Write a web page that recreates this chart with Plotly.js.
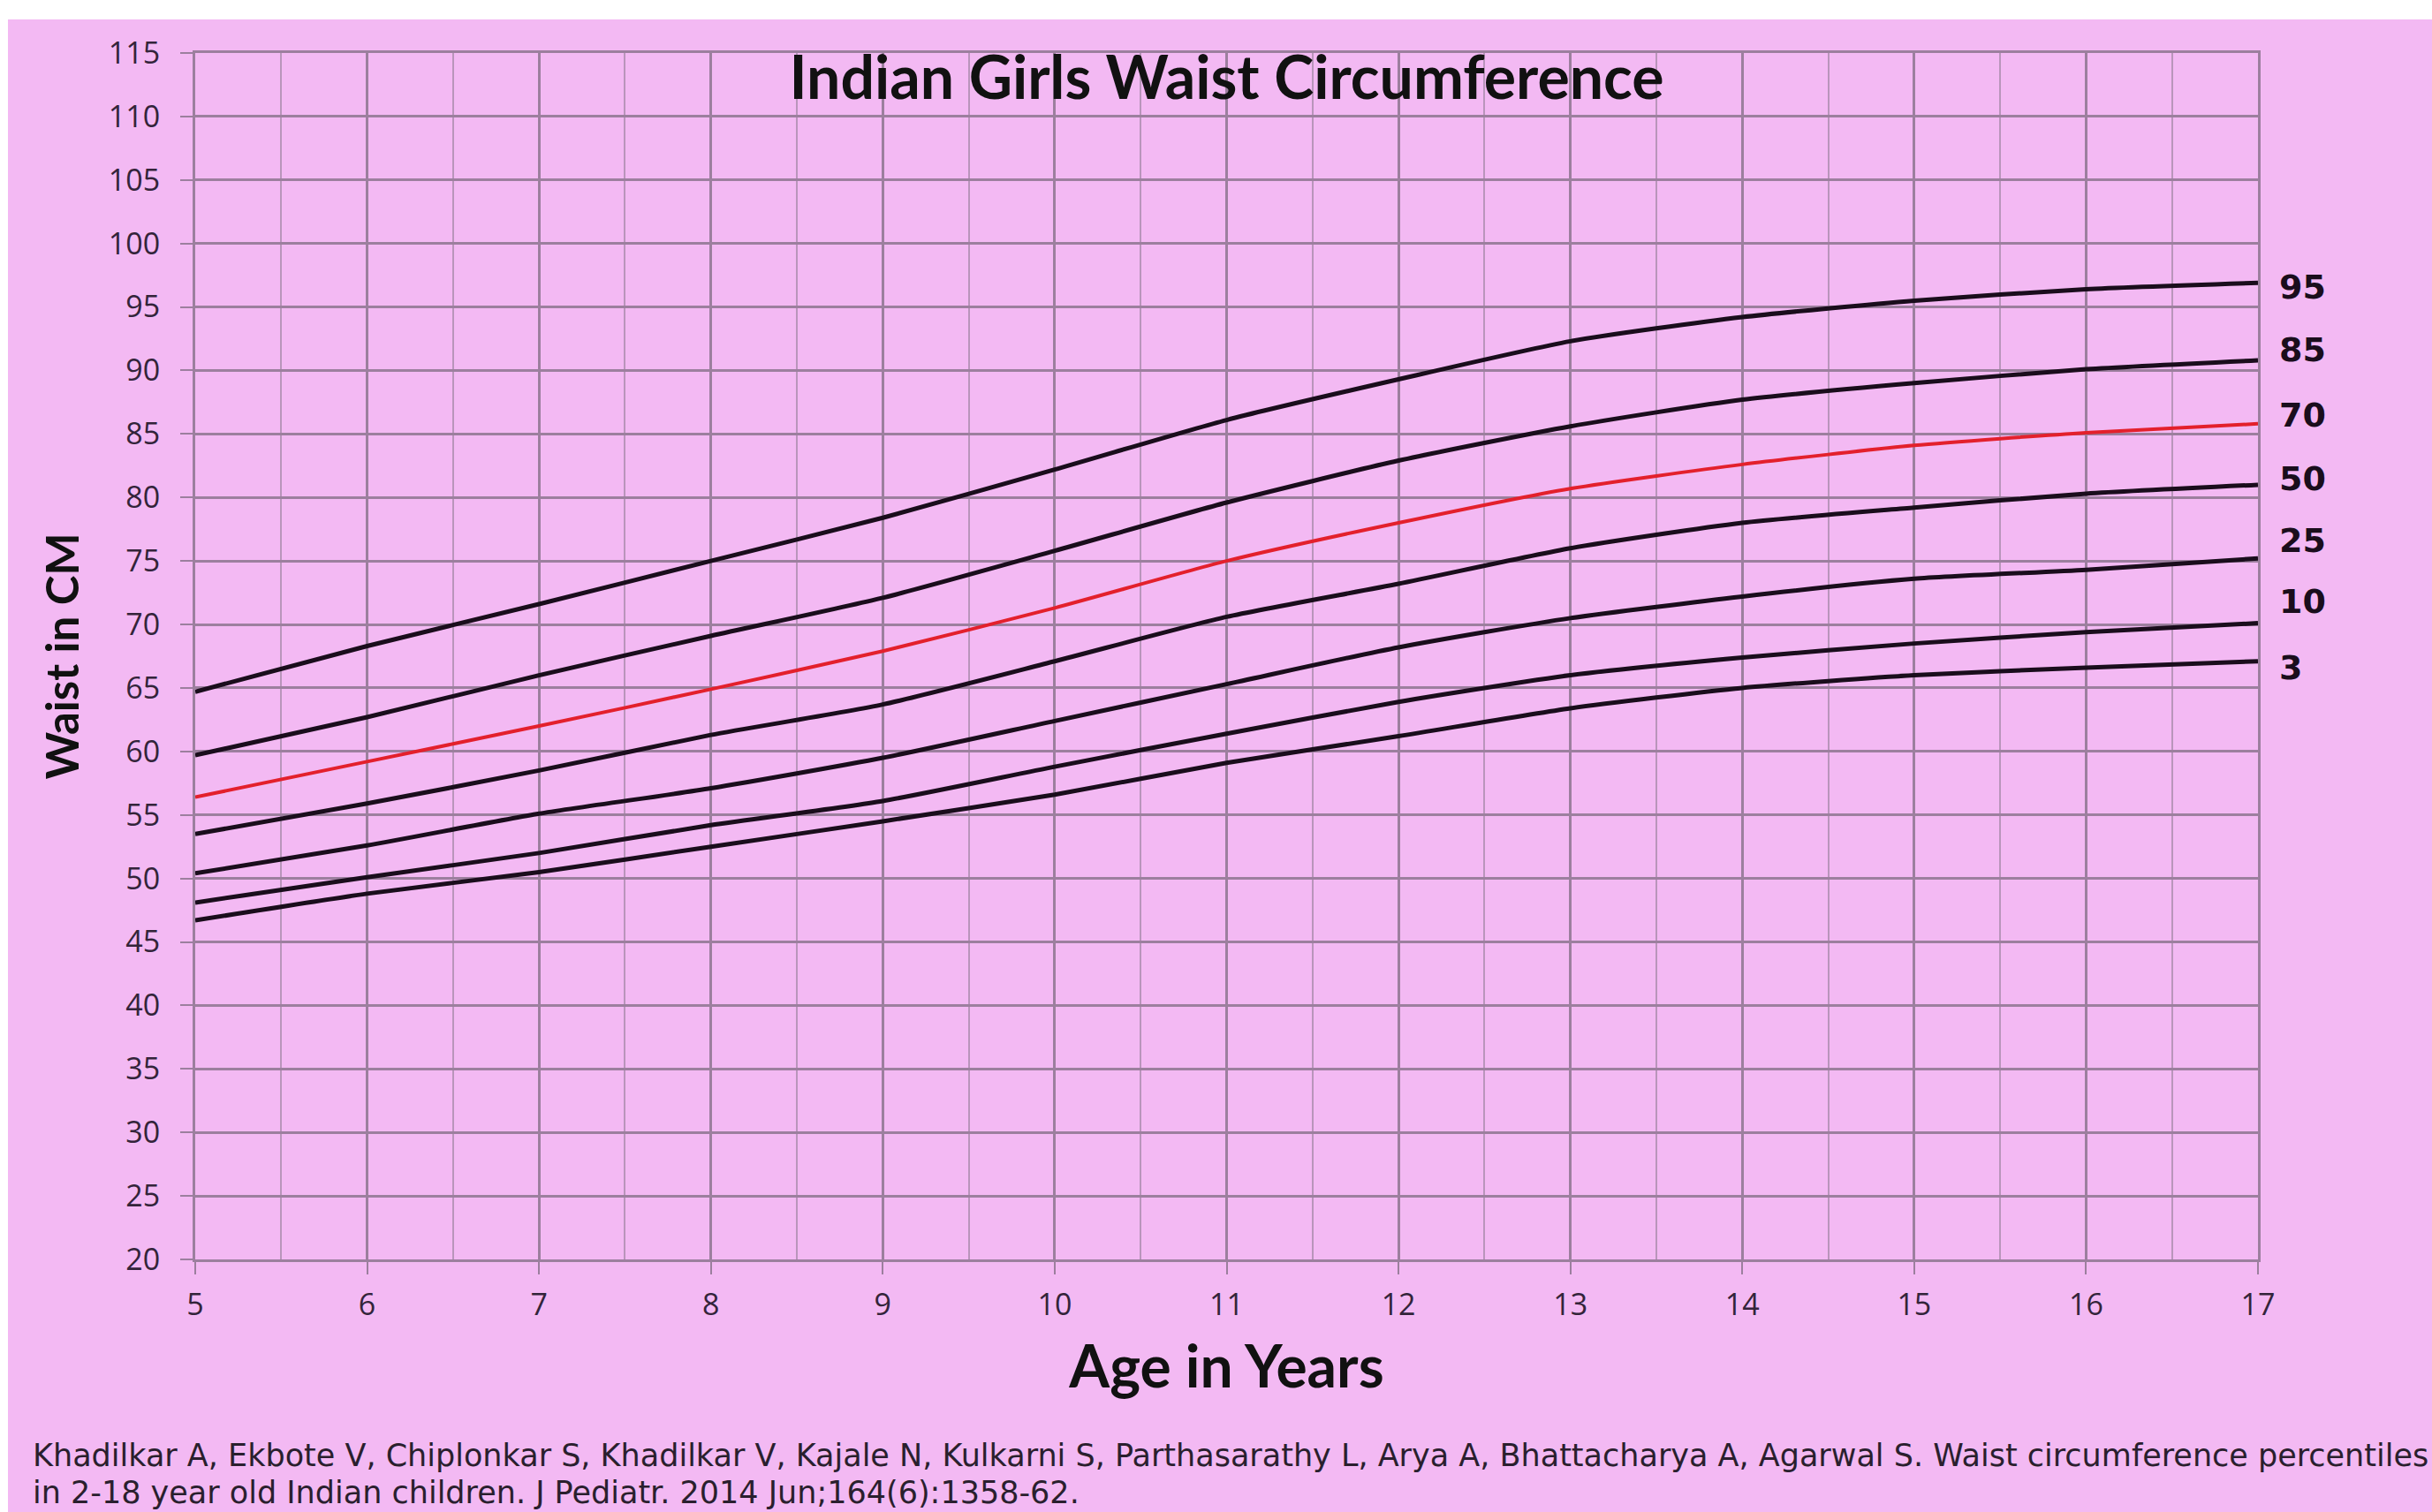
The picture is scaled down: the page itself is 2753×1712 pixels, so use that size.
<!DOCTYPE html>
<html>
<head>
<meta charset="utf-8">
<script src="https://cdn.plot.ly/plotly-3.0.1.min.js"></script>
<style>
  body { margin: 0; background: #ffffff; overflow: hidden; }
  #chart { position: absolute; left: 9px; top: 22px; width: 2744px; height: 1690px; }
</style>
</head>
<body>
<div id="chart"></div>
<script>
// ages in years
let ages = [5, 6, 7, 8, 9, 10, 11, 12, 13, 14, 15, 16, 17];

// waist circumference (cm), one list per percentile
let p95 = [64.7, 68.3, 71.6, 75.0, 78.4, 82.2, 86.1, 89.3, 92.3, 94.2, 95.5, 96.4, 96.9];
let p85 = [59.7, 62.7, 66.0, 69.1, 72.1, 75.8, 79.6, 82.9, 85.6, 87.7, 89.0, 90.1, 90.8];
let p70 = [56.4, 59.2, 62.0, 64.9, 67.9, 71.3, 75.0, 78.0, 80.7, 82.6, 84.1, 85.1, 85.8];
let p50 = [53.5, 55.9, 58.5, 61.3, 63.7, 67.1, 70.6, 73.2, 76.0, 78.0, 79.2, 80.3, 81.0];
let p25 = [50.4, 52.6, 55.1, 57.1, 59.5, 62.4, 65.3, 68.2, 70.5, 72.2, 73.6, 74.3, 75.2];
let p10 = [48.1, 50.1, 52.0, 54.2, 56.1, 58.8, 61.4, 63.9, 66.0, 67.4, 68.5, 69.4, 70.1];
let p3  = [46.7, 48.8, 50.5, 52.5, 54.5, 56.6, 59.1, 61.2, 63.4, 65.0, 66.0, 66.6, 67.1];

let percentileNames = ['95', '85', '70', '50', '25', '10', '3'];
let percentileSeries = [p95, p85, p70, p50, p25, p10, p3];

let citationLines = [
  'Khadilkar A, Ekbote V, Chiplonkar S, Khadilkar V, Kajale N, Kulkarni S, Parthasarathy L, Arya A, Bhattacharya A, Agarwal S. Waist circumference percentiles',
  'in 2-18 year old Indian children. J Pediatr. 2014 Jun;164(6):1358-62.'
];

let pink = '#f3b9f3';
let gridCol = '#9c7f9e';
let labelCol = '#33243a';

let traces = [];
for (let i = 0; i < percentileSeries.length; i++) {
  let isRed = percentileNames[i] == '70';
  traces.push({
    x: ages,
    y: percentileSeries[i],
    name: percentileNames[i],
    type: 'scatter',
    mode: 'lines',
    line: {color: isRed ? '#e3202c' : '#1a0d1c', width: isRed ? 4 : 5, shape: 'spline', smoothing: 0.6},
    hoverinfo: 'skip'
  });
}

// percentile labels on the right, stacked evenly like the original
let labelSpots = [96.6, 91.6, 86.5, 81.5, 76.6, 71.8, 66.6];
let annotations = [];
for (let i = 0; i < percentileNames.length; i++) {
  annotations.push({
    x: 17, y: labelSpots[i], xref: 'x', yref: 'y',
    xanchor: 'left', yanchor: 'middle', xshift: 22,
    text: '<b>' + percentileNames[i] + '</b>',
    showarrow: false,
    font: {family: 'DejaVu Sans', size: 38, color: '#1a0d1c'}
  });
}
// citation under the chart, one annotation per line to keep them tight
let citeY = [-0.1625, -0.1933];
for (let i = 0; i < citationLines.length; i++) {
  annotations.push({
    x: -0.0797, y: citeY[i], xref: 'paper', yref: 'paper',
    xanchor: 'left', yanchor: 'middle', align: 'left',
    text: citationLines[i], showarrow: false,
    font: {family: 'DejaVu Sans', size: 35, color: '#2a1f2e'}
  });
}

let layout = {
  width: 2744,
  height: 1690,
  paper_bgcolor: pink,
  plot_bgcolor: pink,
  showlegend: false,
  margin: {l: 212, r: 197, t: 38, b: 286},
  title: {
    text: '<b>Indian Girls Waist Circumference</b>',
    font: {family: 'Lato', size: 68, color: '#111111'},
    x: 0.5, xref: 'paper', y: 0.979, yref: 'paper', yanchor: 'middle'
  },
  xaxis: {
    range: [5, 17],
    dtick: 1,
    tick0: 5,
    showgrid: true,
    gridcolor: gridCol,
    gridwidth: 3,
    minor: {dtick: 0.5, showgrid: true, gridcolor: '#b995bb', gridwidth: 2},
    showline: true, linecolor: gridCol, linewidth: 3, mirror: true,
    ticks: 'outside', ticklen: 14, tickwidth: 2, tickcolor: gridCol,
    ticklabelstandoff: 5,
    zeroline: false,
    tickfont: {family: 'Open Sans', size: 34, color: labelCol},
    title: {text: '<b>Age in Years</b>', font: {family: 'Lato', size: 66, color: '#111111'}, standoff: 28}
  },
  yaxis: {
    range: [20, 115],
    dtick: 5,
    tick0: 20,
    showgrid: true,
    gridcolor: gridCol,
    gridwidth: 3,
    showline: true, linecolor: gridCol, linewidth: 3, mirror: true,
    ticks: 'outside', ticklen: 14, tickwidth: 2, tickcolor: gridCol,
    ticklabelstandoff: 16,
    zeroline: false,
    tickfont: {family: 'Open Sans', size: 34, color: labelCol},
    title: {text: '<b>Waist in CM</b>', font: {family: 'Lato', size: 51, color: '#111111'}, standoff: 18}
  },
  annotations: annotations
};

Plotly.newPlot('chart', traces, layout, {displayModeBar: false, staticPlot: true});
</script>
</body>
</html>
